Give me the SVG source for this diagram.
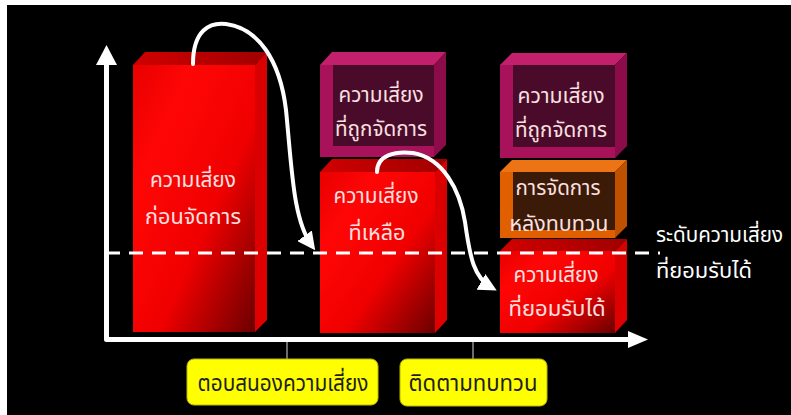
<svg xmlns="http://www.w3.org/2000/svg" width="791" height="415" viewBox="0 0 791 415">
<defs>
<linearGradient id="gFront" x1="0" y1="0" x2="1" y2="1">
<stop offset="0" stop-color="#e80000"/>
<stop offset="0.25" stop-color="#ff0606"/>
<stop offset="0.6" stop-color="#f00000"/>
<stop offset="1" stop-color="#6a0000"/>
</linearGradient>
<linearGradient id="gTop" x1="0" y1="0" x2="1" y2="0">
<stop offset="0" stop-color="#d00000"/>
<stop offset="1" stop-color="#a00000"/>
</linearGradient>
<linearGradient id="gSide" x1="0" y1="0" x2="0" y2="1">
<stop offset="0" stop-color="#d80000"/>
<stop offset="1" stop-color="#e00000"/>
</linearGradient>
<marker id="ah" viewBox="0 0 10 10" refX="7" refY="5" markerWidth="4.5" markerHeight="4.5" orient="auto" markerUnits="strokeWidth">
<path d="M0,0 L10,5 L0,10 z" fill="#ffffff"/>
</marker>
<style>
.t{font-family:"Noto Sans Thai","Noto Sans","DejaVu Sans",sans-serif;font-size:21px;fill:#fbe0e0;text-anchor:middle}
.tw{font-family:"Noto Sans Thai","Noto Sans","DejaVu Sans",sans-serif;font-size:21px;fill:#ffffff}
.ty{font-family:"Noto Sans Thai","Noto Sans","DejaVu Sans",sans-serif;font-size:23px;fill:#1e1e1e;text-anchor:middle}
.front{fill:url(#gFront)}
.top{fill:url(#gTop)}
.side{fill:url(#gSide)}
.pk{fill:#a8125a}.pkTop{fill:#c21f6c}.pkSide{fill:#8c0c4a}.pkIn{fill:#4a0b2b}
.or{fill:#e06000}.orTop{fill:#ec7414}.orSide{fill:#bf5000}.orIn{fill:#3c1a08}
.curve{fill:none;stroke:#ffffff;stroke-width:4;stroke-linecap:round}
.yb{fill:#ffff00;stroke:#b8b800;stroke-width:1}
</style>
</defs>
<rect x="0" y="0" width="791" height="415" fill="#000000"/>
<rect x="0" y="0" width="791" height="5" fill="#ffffff"/>
<rect x="0" y="0" width="7" height="415" fill="#ffffff"/>

<g id="bar-before">
<polygon class="top" points="133,65 145,52 267,52 255,65"/>
<polygon class="side" points="255,65 267,52 267,320 255,332"/>
<rect class="front" x="133" y="65" width="122" height="267"/>
<text class="t" x="193" y="187" textLength="86" lengthAdjust="spacingAndGlyphs">ความเสี่ยง</text>
<text class="t" x="193" y="224" textLength="96" lengthAdjust="spacingAndGlyphs">ก่อนจัดการ</text>
</g>

<g id="box-managed-1">
<polygon class="pkTop" points="320,65 332,52 446,52 434,65"/>
<polygon class="pkSide" points="434,65 446,52 446,145 434,157"/>
<rect class="pk" x="320" y="65" width="114" height="92"/>
<rect class="pkIn" x="333" y="65" width="101" height="81"/>
<text class="t" x="381" y="102" textLength="85" lengthAdjust="spacingAndGlyphs">ความเสี่ยง</text>
<text class="t" x="381" y="136" textLength="92" lengthAdjust="spacingAndGlyphs">ที่ถูกจัดการ</text>
</g>

<g id="bar-residual">
<polygon class="top" points="320,172 332,159 447,159 435,172"/>
<polygon class="side" points="435,172 447,159 447,320 435,333"/>
<rect class="front" x="320" y="172" width="115" height="161"/>
<text class="t" x="376" y="203" textLength="85" lengthAdjust="spacingAndGlyphs">ความเสี่ยง</text>
<text class="t" x="377" y="240" textLength="57" lengthAdjust="spacingAndGlyphs">ที่เหลือ</text>
</g>

<g id="box-managed-2">
<polygon class="pkTop" points="500,65 512,53 627,53 615,65"/>
<polygon class="pkSide" points="615,65 627,53 627,146 615,158"/>
<rect class="pk" x="500" y="65" width="115" height="93"/>
<rect class="pkIn" x="513" y="65" width="102" height="82"/>
<text class="t" x="561" y="103" textLength="87" lengthAdjust="spacingAndGlyphs">ความเสี่ยง</text>
<text class="t" x="561" y="137" textLength="92" lengthAdjust="spacingAndGlyphs">ที่ถูกจัดการ</text>
</g>

<g id="box-post-review">
<polygon class="orTop" points="500,172 512,160 627,160 615,172"/>
<polygon class="orSide" points="615,172 627,160 627,226 615,238"/>
<rect class="or" x="500" y="172" width="115" height="66"/>
<rect class="orIn" x="513" y="172" width="102" height="58"/>
<text class="t" x="558" y="195" textLength="85" lengthAdjust="spacingAndGlyphs">การจัดการ</text>
<text class="t" x="559" y="231" textLength="99" lengthAdjust="spacingAndGlyphs">หลังทบทวน</text>
</g>

<g id="bar-acceptable">
<polygon class="top" points="500,251 512,239 627,239 615,251"/>
<polygon class="side" points="615,251 627,239 627,320 615,333"/>
<rect class="front" x="500" y="251" width="115" height="82"/>
<text class="t" x="556" y="282" textLength="85" lengthAdjust="spacingAndGlyphs">ความเสี่ยง</text>
<text class="t" x="557" y="316" textLength="97" lengthAdjust="spacingAndGlyphs">ที่ยอมรับได้</text>
</g>

<g id="axes">
<path d="M106.5,64 V339.5 H630" fill="none" stroke="#ffffff" stroke-width="5" stroke-linejoin="round"/>
<polygon points="106.5,45 117,65 96,65" fill="#ffffff"/>
<polygon points="648,339.5 628,331 628,348" fill="#ffffff"/>
</g>

<g id="acceptable-level">
<line x1="106" y1="253" x2="660" y2="253" stroke="#ffffff" stroke-width="3" stroke-dasharray="14,9"/>
<text class="tw" x="656" y="242" textLength="127" lengthAdjust="spacingAndGlyphs">ระดับความเสี่ยง</text>
<text class="tw" x="656" y="278" textLength="96" lengthAdjust="spacingAndGlyphs">ที่ยอมรับได้</text>
</g>

<g id="connectors">
<path class="curve" d="M193,64 C193,30 210,22 226,24 C258,28 280,60 286,110 C292,170 293,220 312,246" marker-end="url(#ah)"/>
<path class="curve" d="M377,172 C377,155 395,151 413,153 C443,158 460,190 465,222 C470,258 474,278 492,288" marker-end="url(#ah)"/>
<line x1="287" y1="342" x2="287" y2="359" stroke="#909090" stroke-width="1.5"/>
<line x1="473" y1="342" x2="473" y2="359" stroke="#909090" stroke-width="1.5"/>
</g>

<g id="label-respond">
<rect class="yb" x="187" y="359" width="191" height="46" rx="7"/>
<text class="ty" x="283" y="391" textLength="171" lengthAdjust="spacingAndGlyphs">ตอบสนองความเสี่ยง</text>
</g>

<g id="label-monitor">
<rect class="yb" x="400" y="359" width="147" height="47" rx="7"/>
<text class="ty" x="473" y="391" textLength="129" lengthAdjust="spacingAndGlyphs">ติดตามทบทวน</text>
</g>
</svg>
